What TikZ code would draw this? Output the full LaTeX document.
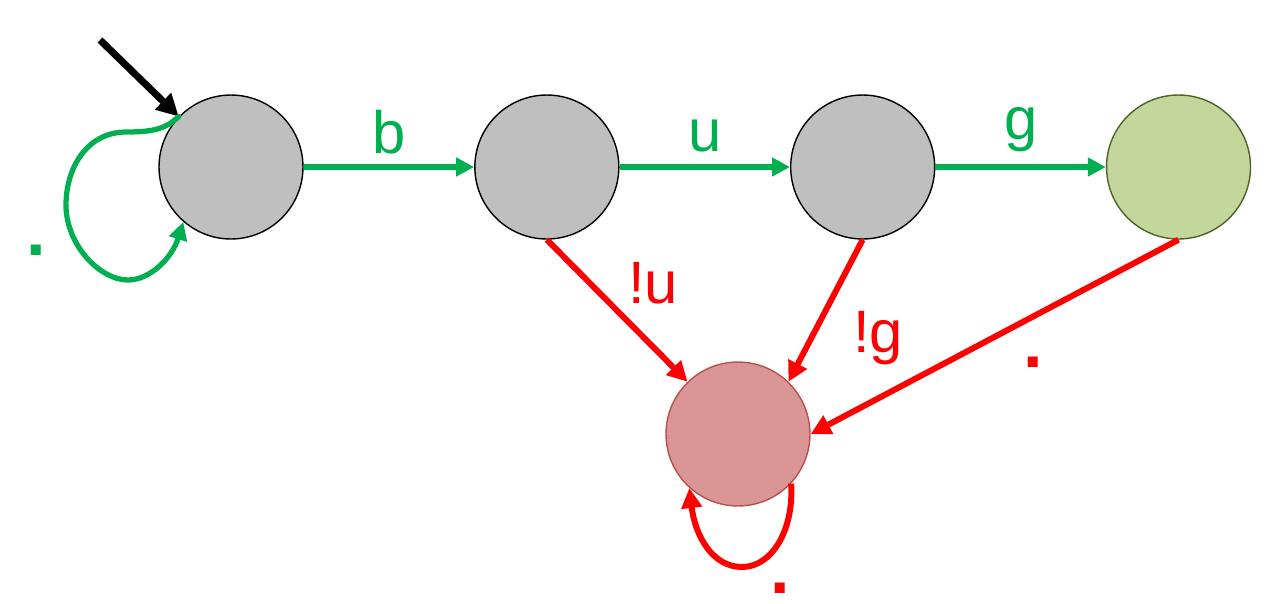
\documentclass[tikz,border=0pt]{standalone}
\usepackage{fontspec}
\setmainfont{Liberation Sans}
\usetikzlibrary{arrows.meta,positioning}
\definecolor{acgreen}{HTML}{00B050}
\definecolor{acred}{HTML}{FF0000}
\definecolor{stgray}{HTML}{BFBFBF}
\definecolor{okfill}{HTML}{C3D69B}
\definecolor{okdraw}{HTML}{4F6228}
\definecolor{errfill}{HTML}{D99694}
\definecolor{errdraw}{HTML}{B9504C}

\begin{document}
\begin{tikzpicture}[x=0.02cm,y=-0.02cm,
      state/.style={circle,draw=black,line width=0.8pt,fill=stgray,minimum size=2.88cm,inner sep=0pt},
      lbl/.style={font=\fontsize{34}{38}\selectfont,inner sep=0pt},
      dot/.style={font=\fontsize{40}{44}\selectfont\bfseries,inner sep=0pt},
      garr/.style={-{Triangle[length=0.36cm,width=0.36cm]},line width=3pt,draw=acgreen},
      rarr/.style={-{Triangle[length=0.4cm,width=0.4cm]},line width=3.4pt,draw=acred}]
    \useasboundingbox (0,0) rectangle (1269,603);
    \node[state] (q0) at (231,167) {};
    \node[state,right=3.41cm of q0] (q1) {};
    \node[state,right=3.41cm of q1] (q2) {};
    \node[state,right=3.41cm of q2,draw=okdraw,fill=okfill] (ok) {};
    \node[state,draw=errdraw,fill=errfill] (err) at (738,434) {};
    \coordinate (init) at (100,40);
    \draw[-{Triangle[length=0.44cm,width=0.44cm]},line width=4pt] (init) -- (q0.136);
    \draw[garr] (q0) -- node[lbl,text=acgreen,above=0.2cm] {b} (q1);
    \draw[garr] (q1) -- node[lbl,text=acgreen,above=0.24cm] {u} (q2);
    \draw[garr] (q2) -- node[lbl,text=acgreen,above=0.24cm] {g} (ok);
    \draw[garr,line cap=round] (q0.136) .. controls (165,130) and (150,132) .. (125,132)
      .. controls (85,133) and (66,170) .. (66,205)
      .. controls (66,245) and (100,280) .. (128,280)
      .. controls (150,280) and (172,258) .. (q0.229);
    \node[dot,text=acgreen] (l0) at (36,250) {.};
    \draw[rarr] (q1.south) -- (err.134);
    \node[lbl,text=acred] (lu) at (653,283) {!u};
    \draw[rarr] (q2.south) -- (err.46);
    \node[lbl,text=acred] (lg) at (878,338) {!g};
    \draw[rarr] (ok.south) -- (err.east);
    \node[dot,text=acred] (lo) at (1033,362) {.};
    \draw[rarr] (err.-43) .. controls (794,530) and (772,567) .. (742,567)
      .. controls (712,567) and (695,535) .. (err.228);
    \node[dot,text=acred] (le) at (780,588) {.};
  \end{tikzpicture}
\end{document}
